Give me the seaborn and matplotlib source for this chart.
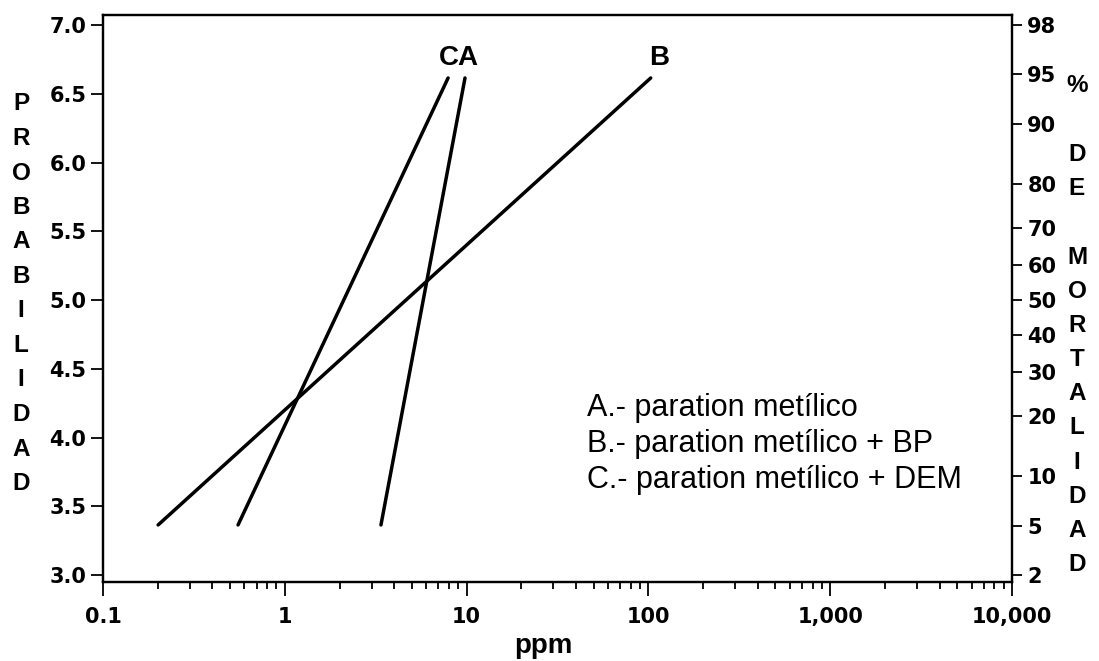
import numpy as np
import pandas as pd
import matplotlib
matplotlib.use("Agg")
import matplotlib.pyplot as plt
import matplotlib.ticker as mticker
import seaborn as sns
from statistics import NormalDist

# Probit regression lines (dose in ppm vs. probit), end points of each line
series = ["C", "A", "B"]
ppm_C = [0.553, 7.91]
ppm_A = [3.38, 9.8]
ppm_B = [0.201, 103.0]
probit_C = [3.364, 6.615]
probit_A = [3.364, 6.615]
probit_B = [3.364, 6.615]

# Axis ticks
x_ticks = [0.1, 1, 10, 100, 1000, 10000]
x_tick_labels = ["0.1", "1", "10", "100", "1,000", "10,000"]
y_ticks = [3.0, 3.5, 4.0, 4.5, 5.0, 5.5, 6.0, 6.5, 7.0]
pct_ticks = [98, 95, 90, 80, 70, 60, 50, 40, 30, 20, 10, 5, 2]

legend_lines = [
    "A.- paration metílico",
    "B.- paration metílico + BP",
    "C.- paration metílico + DEM",
]
left_title = "PROBABILIDAD"
right_title = "% DE MORTALIDAD"

df = pd.DataFrame({
    "ppm": ppm_C + ppm_A + ppm_B,
    "probit": probit_C + probit_A + probit_B,
    "serie": ["C"] * 2 + ["A"] * 2 + ["B"] * 2,
})

sns.set_theme(style="ticks")
plt.rcParams["font.family"] = ["DejaVu Sans"]
plt.rcParams["text.color"] = "black"
plt.rcParams["axes.labelcolor"] = "black"
plt.rcParams["xtick.color"] = "black"
plt.rcParams["ytick.color"] = "black"

fig = plt.figure(figsize=(10.99, 6.61), dpi=100)
ax = fig.add_axes([103 / 1099, 1 - 582 / 661, (1012 - 103) / 1099, (582 - 15) / 661])

sns.lineplot(data=df, x="ppm", y="probit", hue="serie", units="serie",
             estimator=None, palette={s: "black" for s in series},
             linewidth=2.5, legend=False, ax=ax)

ax.set_xscale("log")
ax.set_xlim(0.1, 10000)
ax.set_ylim(2.949, 7.073)

ax.xaxis.set_major_locator(mticker.FixedLocator(x_ticks))
ax.xaxis.set_major_formatter(mticker.FixedFormatter(x_tick_labels))
ax.xaxis.set_minor_locator(mticker.LogLocator(base=10, subs=np.arange(2, 10)))
ax.xaxis.set_minor_formatter(mticker.NullFormatter())
ax.set_yticks(y_ticks)
ax.set_yticklabels([f"{v:.1f}" for v in y_ticks])

tick_font = dict(family="DejaVu Sans", weight="bold", size=15)
for lab in ax.get_xticklabels() + ax.get_yticklabels():
    lab.set_fontproperties(tick_font)
    lab.set_color("black")

ax.tick_params(axis="x", which="major", length=10, width=1.3, pad=8, colors="black")
ax.tick_params(axis="x", which="minor", length=5, width=1.3, colors="black")
ax.tick_params(axis="y", which="major", length=9, width=1.3, pad=3, colors="black")
ax.set_xlabel("ppm", fontsize=20, fontweight="bold", family="Liberation Sans",
              color="black")
ax.xaxis.set_label_coords(0.485, -0.09)
ax.set_ylabel("")

for sp in ax.spines.values():
    sp.set_visible(True)
    sp.set_linewidth(1.6)
    sp.set_color("black")

# Right axis: percent mortality at the matching probit positions
ax2 = ax.twinx()
ax2.set_ylim(ax.get_ylim())
pct_pos = [float(np.clip(5 + NormalDist().inv_cdf(p / 100), 3.0, 7.0)) for p in pct_ticks]
ax2.set_yticks(pct_pos)
ax2.set_yticklabels([str(p) for p in pct_ticks])
for lab in ax2.get_yticklabels():
    lab.set_fontproperties(tick_font)
    lab.set_color("black")
ax2.tick_params(axis="y", which="major", length=7, width=1.3, pad=4, colors="black")
for sp in ax2.spines.values():
    sp.set_linewidth(1.6)
    sp.set_color("black")

# Line identifiers above the upper ends
ax.text(9.07, 6.76, "CA", ha="center", va="center", fontsize=20,
        fontweight="bold", family="Liberation Sans", color="black")
ax.text(114, 6.76, "B", ha="center", va="center", fontsize=20,
        fontweight="bold", family="Liberation Sans", color="black")

# Key of the treatments
for i, line in enumerate(legend_lines):
    ax.text(0.532, 0.292 - i * 0.063, line, transform=ax.transAxes,
            ha="left", va="baseline", fontsize=22, family="Liberation Sans",
            color="black")

# Vertical stacked axis titles
for i, ch in enumerate(left_title):
    fig.text(21 / 1099, 1 - (104 + i * 34.5) / 661, ch, ha="center", va="center",
             fontsize=17.5, fontweight="bold", family="Liberation Sans", color="black")
for i, ch in enumerate(right_title):
    if ch.strip():
        fig.text(1077 / 1099, 1 - (86 + i * 34.2) / 661, ch, ha="center", va="center",
                 fontsize=17.5, fontweight="bold", family="Liberation Sans", color="black")

fig.savefig("out.png", dpi=100, facecolor="white")
